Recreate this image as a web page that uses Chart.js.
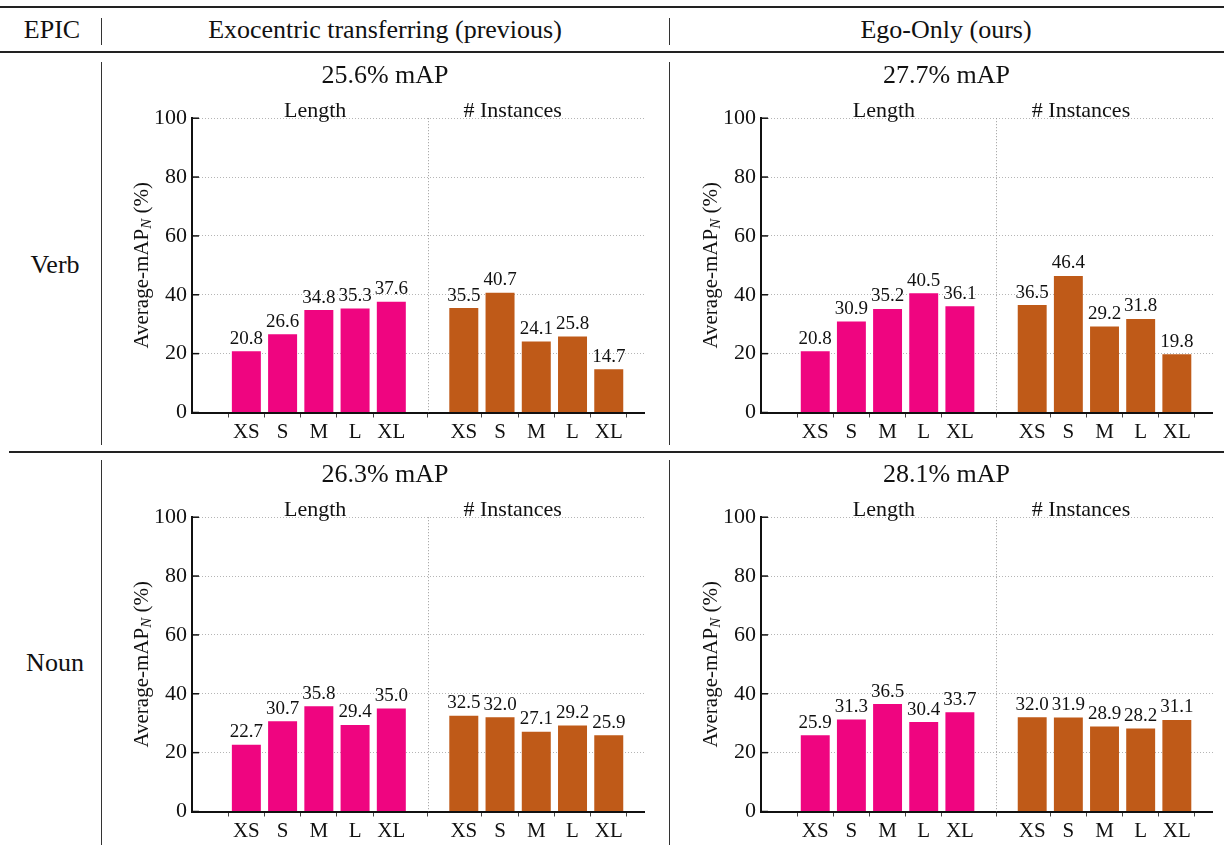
<!DOCTYPE html>
<html>
<head>
<meta charset="utf-8">
<script src="https://cdn.jsdelivr.net/npm/chart.js@4.4.1/dist/chart.umd.min.js"></script>
<style>
  body { margin: 0; background: #fff; }
  #page { position: relative; width: 1224px; height: 845px; overflow: hidden;
          font-family: 'Liberation Serif', 'Times New Roman', serif; color: #111; }
  .rule { position: absolute; background: #222; }
  .vline { position: absolute; width: 1px; background: #333; }
  .txt { position: absolute; font-size: 26px; line-height: 1; white-space: nowrap;
         transform: translate(-50%, -50%); }
  canvas { position: absolute; }
</style>
</head>
<body>
<div id="page">
  <div class="rule" style="left:0;top:6px;width:1224px;height:2px"></div>
  <div class="txt" style="left:52px;top:30px">EPIC</div>
  <div class="txt" style="left:385px;top:30px">Exocentric transferring (previous)</div>
  <div class="txt" style="left:946px;top:30px">Ego-Only (ours)</div>
  <div class="vline" style="left:101px;top:18px;height:27px"></div>
  <div class="vline" style="left:669px;top:18px;height:27px"></div>
  <div class="rule" style="left:0;top:51px;width:1224px;height:1.5px"></div>

  <div class="txt" style="left:55px;top:265px">Verb</div>
  <div class="vline" style="left:101px;top:62px;height:383px"></div>
  <div class="vline" style="left:669px;top:62px;height:383px"></div>
  <div class="rule" style="left:9px;top:451px;width:1215px;height:1.5px"></div>

  <div class="txt" style="left:55px;top:663px">Noun</div>
  <div class="vline" style="left:101px;top:460px;height:385px"></div>
  <div class="vline" style="left:669px;top:460px;height:385px"></div>

  <canvas id="verbExo" width="520" height="392" style="left:125px;top:53px"></canvas>
  <canvas id="verbEgo" width="533" height="392" style="left:680px;top:53px"></canvas>
  <canvas id="nounExo" width="520" height="392" style="left:125px;top:452px"></canvas>
  <canvas id="nounEgo" width="533" height="392" style="left:680px;top:452px"></canvas>
</div>
<script>
const sizes = ['XS', 'S', 'M', 'L', 'XL'];
const groups = ['Length', '# Instances'];
const slotLabels = [...sizes, '', ...sizes]; // empty slot between the two groups
const yTicks = [0, 20, 40, 60, 80, 100];

const verbExoLength = [20.8, 26.6, 34.8, 35.3, 37.6];
const verbExoInst = [35.5, 40.7, 24.1, 25.8, 14.7];
const verbEgoLength = [20.8, 30.9, 35.2, 40.5, 36.1];
const verbEgoInst = [36.5, 46.4, 29.2, 31.8, 19.8];
const nounExoLength = [22.7, 30.7, 35.8, 29.4, 35.0];
const nounExoInst = [32.5, 32.0, 27.1, 29.2, 25.9];
const nounEgoLength = [25.9, 31.3, 36.5, 30.4, 33.7];
const nounEgoInst = [32.0, 31.9, 28.9, 28.2, 31.1];
const mapTitles = ['25.6% mAP', '27.7% mAP', '26.3% mAP', '28.1% mAP'];

const FONT = "'Liberation Serif', 'Times New Roman', serif";
const PINK = '#ef0580';
const BROWN = '#bf5a18';
const groupLabelAt = [1.9, 7.35];

Chart.defaults.font.family = FONT;
Chart.defaults.color = '#111';

// separator, inward y ticks, group headings, bar values, y title
const decor = {
    id: 'decor',
    afterDraw(chart) {
        const { ctx, chartArea: a, scales: { x, y } } = chart;
        ctx.save();

        ctx.strokeStyle = '#999';
        ctx.lineWidth = 1;
        ctx.setLineDash([1, 2]);
        let sx = Math.round(x.getPixelForValue(sizes.length)) + 0.5;
        ctx.beginPath();
        ctx.moveTo(sx, a.top);
        ctx.lineTo(sx, a.bottom);
        ctx.stroke();
        ctx.setLineDash([]);

        ctx.strokeStyle = '#111';
        ctx.lineWidth = 1.5;
        yTicks.forEach(v => {
            let py = y.getPixelForValue(v);
            ctx.beginPath();
            ctx.moveTo(a.left, py);
            ctx.lineTo(a.left + 7, py);
            ctx.stroke();
        });

        ctx.fillStyle = '#111';
        ctx.textAlign = 'center';
        ctx.textBaseline = 'alphabetic';
        ctx.font = `22px ${FONT}`;
        groups.forEach((g, i) => ctx.fillText(g, x.getPixelForValue(groupLabelAt[i]), a.top - 1));

        ctx.font = `19px ${FONT}`;
        ctx.textBaseline = 'bottom';
        chart.data.datasets.forEach((ds, di) => {
            chart.getDatasetMeta(di).data.forEach((bar, i) => {
                ctx.fillText(ds.data[i].y.toFixed(1), bar.x, bar.y - 3);
            });
        });

        ctx.translate(a.left - 50, (a.top + a.bottom) / 2);
        ctx.rotate(-Math.PI / 2);
        let f1 = `21px ${FONT}`;
        let f2 = `italic 15px ${FONT}`;
        ctx.font = f1;
        let w1 = ctx.measureText('Average-mAP').width;
        let w3 = ctx.measureText(' (%)').width;
        ctx.font = f2;
        let w2 = ctx.measureText('N').width;
        let x0 = -(w1 + w2 + w3) / 2;
        ctx.textAlign = 'left';
        ctx.textBaseline = 'middle';
        ctx.font = f1;
        ctx.fillText('Average-mAP', x0, 0);
        ctx.font = f2;
        ctx.fillText('N', x0 + w1, 5);
        ctx.font = f1;
        ctx.fillText(' (%)', x0 + w1 + w2, 0);

        ctx.restore();
    }
};

function makeChart(id, lengthVals, instVals, title, yWidth) {
    new Chart(document.getElementById(id), {
        type: 'bar',
        data: {
            datasets: [
                {
                    label: groups[0],
                    data: lengthVals.map((v, i) => ({ x: i, y: v })),
                    backgroundColor: PINK,
                    grouped: false,
                    barPercentage: 0.8,
                    categoryPercentage: 1
                },
                {
                    label: groups[1],
                    data: instVals.map((v, i) => ({ x: sizes.length + 1 + i, y: v })),
                    backgroundColor: BROWN,
                    grouped: false,
                    barPercentage: 0.8,
                    categoryPercentage: 1
                }
            ]
        },
        options: {
            responsive: false,
            animation: false,
            layout: { padding: 0 },
            plugins: {
                legend: { display: false },
                tooltip: { enabled: false },
                title: {
                    display: true,
                    text: title,
                    color: '#111',
                    font: { size: 26, weight: 'normal' },
                    padding: { top: 8, bottom: 26 }
                }
            },
            scales: {
                x: {
                    type: 'linear',
                    min: -1.5,
                    max: slotLabels.length,
                    offset: false,
                    afterBuildTicks: s => {
                        s.ticks = slotLabels.map((l, i) => ({ value: i })).filter(t => slotLabels[t.value] !== '');
                    },
                    afterFit: s => { s.height = 32.5; },
                    ticks: {
                        autoSkip: false,
                        maxRotation: 0,
                        padding: 2,
                        color: '#111',
                        font: { size: 21 },
                        callback: v => slotLabels[v]
                    },
                    grid: { drawOnChartArea: false, drawTicks: true, tickLength: 5, tickColor: '#444', tickWidth: 1 },
                    border: { display: true, color: '#111', width: 2 }
                },
                y: {
                    min: 0,
                    max: 100,
                    afterBuildTicks: s => { s.ticks = yTicks.map(v => ({ value: v })); },
                    afterFit: s => { s.width = yWidth; },
                    ticks: { padding: 5, color: '#111', font: { size: 22 } },
                    grid: {
                        color: c => (c.tick && c.tick.value === 0) ? 'rgba(0,0,0,0)' : '#b5b5b5',
                        lineWidth: 1,
                        drawTicks: false
                    },
                    border: { display: true, color: '#111', width: 2, dash: [1, 2] }
                }
            }
        },
        plugins: [decor]
    });
}

makeChart('verbExo', verbExoLength, verbExoInst, mapTitles[0], 67);
makeChart('verbEgo', verbEgoLength, verbEgoInst, mapTitles[1], 81);
makeChart('nounExo', nounExoLength, nounExoInst, mapTitles[2], 67);
makeChart('nounEgo', nounEgoLength, nounEgoInst, mapTitles[3], 81);
</script>
</body>
</html>
